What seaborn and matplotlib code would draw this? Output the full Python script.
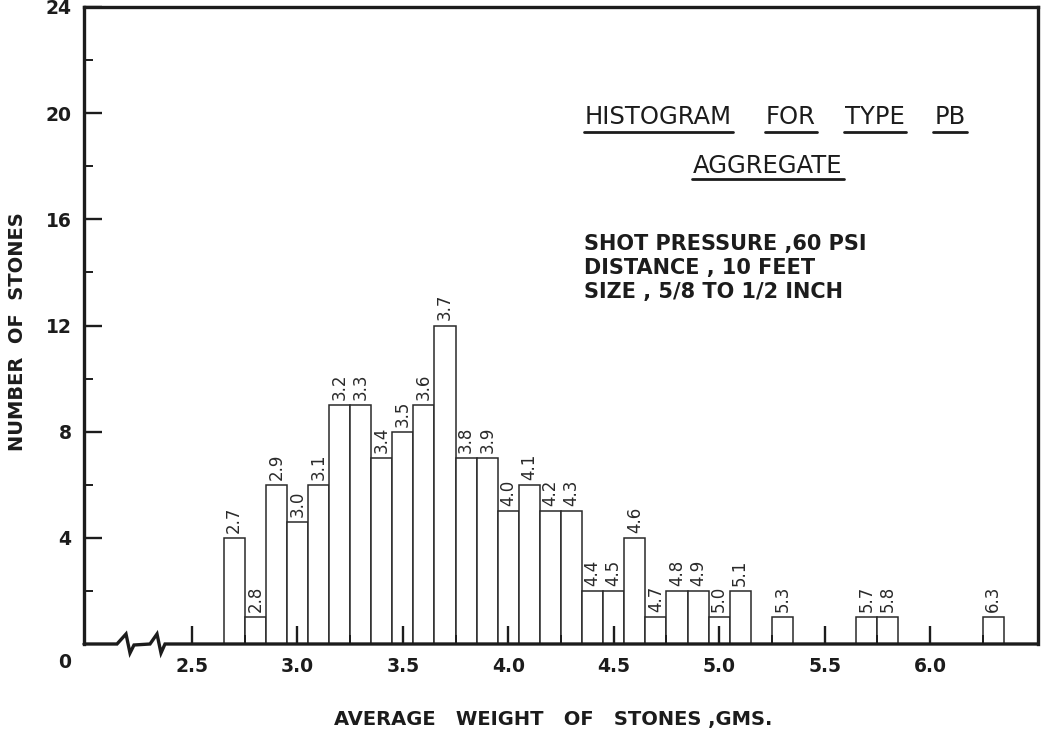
import numpy as np
import pandas as pd
import matplotlib
matplotlib.use("Agg")
import matplotlib.pyplot as plt
import seaborn as sns
from matplotlib.lines import Line2D
from matplotlib.ticker import FixedLocator

# ---------------- data ----------------
weights = [2.7, 2.8, 2.9, 3.0, 3.1, 3.2, 3.3, 3.4, 3.5, 3.6, 3.7, 3.8, 3.9,
           4.0, 4.1, 4.2, 4.3, 4.4, 4.5, 4.6, 4.7, 4.8, 4.9, 5.0, 5.1,
           5.3, 5.7, 5.8, 6.3]
counts = [4, 1, 6, 4.6, 6, 9, 9, 7, 8, 9, 12, 7, 7,
          5, 6, 5, 5, 2, 2, 4, 1, 2, 2, 1, 2,
          1, 1, 1, 1]
bar_labels = [f"{w:.1f}" for w in weights]
x_major = [2.5, 3.0, 3.5, 4.0, 4.5, 5.0, 5.5, 6.0]
x_major_labels = ["2.5", "3.0", "3.5", "4.0", "4.5", "5.0", "5.5", "6.0"]
x_minor = [2.75, 3.25, 3.75, 4.25, 4.75, 5.25, 5.75, 6.25]
y_major = [4, 8, 12, 16, 20, 24]
y_major_labels = ["4", "8", "12", "16", "20", "24"]
y_minor = [2, 6, 10, 14, 18, 22]
bin_width = 0.1

title_words = ["HISTOGRAM", "FOR", "TYPE", "PB"]
subtitle = "AGGREGATE"
info_lines = ["SHOT PRESSURE ,60 PSI", "DISTANCE , 10 FEET", "SIZE , 5/8 TO 1/2 INCH"]
x_label = "AVERAGE   WEIGHT   OF   STONES ,GMS."
y_label = "NUMBER  OF  STONES"

# ---------------- style ----------------
INK = "#1c1c1c"
W, H = 1046, 736
sns.set_theme(style="white")
plt.rcParams["font.family"] = ["DejaVu Sans"]
plt.rcParams["text.color"] = INK

fig = plt.figure(figsize=(W / 100, H / 100), dpi=100)
fig.patch.set_facecolor("white")

L, R, T, B = 84, 1038, 7, 644
ax = fig.add_axes([L / W, 1 - B / H, (R - L) / W, (B - T) / H])
ax.set_facecolor("white")

df = pd.DataFrame({"weight": weights, "count": counts})
lo = min(weights) - bin_width / 2
hi = max(weights) + bin_width / 2

sns.histplot(data=df, x="weight", weights="count", binwidth=bin_width,
             binrange=(lo, hi), stat="count",
             color="white", edgecolor="#2a2a2a", linewidth=1.1, alpha=1,
             ax=ax, zorder=1)
ax.set_axisbelow(False)

# axis limits
px_per_unit = (930 - 192) / 3.5
x_left = 2.5 - (192 - L) / px_per_unit
x_right = 6.0 + (R - 930) / px_per_unit
ax.set_xlim(x_left, x_right)
ax.set_ylim(0, 24)

# bar value labels
for w, c, lab in zip(weights, counts, bar_labels):
    ax.annotate(lab, xy=(w, c), xytext=(0, 5), textcoords="offset pixels",
                rotation=90, ha="center", va="bottom", fontsize=12,
                color="#2a2a2a", zorder=3)

# spines
for s in ["left", "top", "right"]:
    ax.spines[s].set_visible(True)
    ax.spines[s].set_linewidth(2.4)
    ax.spines[s].set_color(INK)
ax.spines["bottom"].set_visible(False)

# bottom axis line with break (zig-zag), drawn in data coords
def px2x(px):
    return 2.5 + (px - 192) / px_per_unit

def py2y(py):
    return (B - py) / ((B - T) / 24)

zz_px = [(L, 644), (117, 644), (126, 634), (130, 653), (134, 645),
         (150, 644), (157, 634), (161, 653), (165, 644), (R, 644)]
ax.plot([px2x(p[0]) for p in zz_px], [py2y(p[1]) for p in zz_px],
        color=INK, lw=2.4, clip_on=False, zorder=5, solid_joinstyle="miter")

# ticks
ax.xaxis.set_major_locator(FixedLocator(x_major))
ax.xaxis.set_minor_locator(FixedLocator(x_minor))
ax.set_xticklabels(x_major_labels)
ax.yaxis.set_major_locator(FixedLocator(y_major))
ax.yaxis.set_minor_locator(FixedLocator(y_minor))
ax.set_yticklabels(y_major_labels)
ax.tick_params(axis="both", which="major", direction="in", length=13,
               width=1.7, color=INK, labelsize=13.5, pad=9)
ax.tick_params(axis="both", which="minor", direction="in", length=6.5,
               width=1.4, color=INK)
ax.tick_params(axis="x", which="both", bottom=True, top=False)
ax.tick_params(axis="y", which="both", left=True, right=False)
for t in ax.get_xticklabels() + ax.get_yticklabels():
    t.set_fontweight("bold")
    t.set_color(INK)
ax.set_xlabel("")
ax.set_ylabel("")

# origin "0"
ax.annotate("0", xy=(0, 0), xycoords="axes fraction", xytext=(-19, -18),
            textcoords="offset pixels", ha="center", va="center",
            fontsize=13.5, fontweight="bold", color=INK)

# axis titles
fig.text(553 / W, 1 - 720 / H, x_label, ha="center", va="center",
         fontsize=14, fontweight="bold", color=INK)
fig.text(18 / W, 1 - 332 / H, y_label, ha="center", va="center",
         rotation=90, fontsize=14, fontweight="bold", color=INK)

# title words with underlines
title_centers = [658, 791, 875, 950]
title_texts = []
for word, cx in zip(title_words, title_centers):
    title_texts.append(fig.text(cx / W, 1 - 124 / H, word, ha="center",
                                va="baseline", fontsize=17.5, color=INK))
sub_text = fig.text(768 / W, 1 - 173 / H, subtitle, ha="center",
                    va="baseline", fontsize=17.5, color=INK)

for i, line in enumerate(info_lines):
    fig.text(584 / W, 1 - (250 + 24 * i) / H, line, ha="left", va="baseline",
             fontsize=15, fontweight="bold", color=INK)

fig.canvas.draw()
renderer = fig.canvas.get_renderer()
for t, uy in [(tt, 132) for tt in title_texts] + [(sub_text, 179)]:
    bb = t.get_window_extent(renderer)
    yf = 1 - uy / H
    fig.add_artist(Line2D([bb.x0 / W - 1 / W, bb.x1 / W + 1 / W], [yf, yf],
                          transform=fig.transFigure, color=INK, lw=2.0))

fig.savefig("out.png", dpi=100, facecolor="white")
